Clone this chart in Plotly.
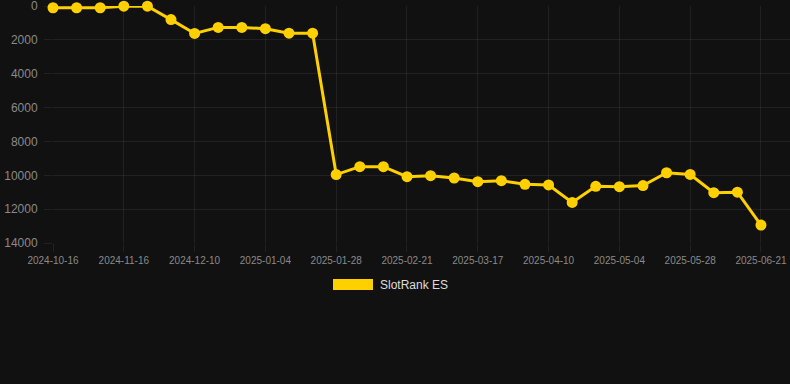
import plotly.graph_objects as go

dates = [
    "2024-10-16", "2024-10-26", "2024-11-05", "2024-11-16", "2024-11-24", "2024-12-02",
    "2024-12-10", "2024-12-18", "2024-12-26", "2025-01-04", "2025-01-12", "2025-01-20",
    "2025-01-28", "2025-02-05", "2025-02-13", "2025-02-21", "2025-03-01", "2025-03-09",
    "2025-03-17", "2025-03-25", "2025-04-02", "2025-04-10", "2025-04-18", "2025-04-26",
    "2025-05-04", "2025-05-12", "2025-05-20", "2025-05-28", "2025-06-05", "2025-06-13",
    "2025-06-21",
]
rank = [
    100, 100, 100, 10, 10, 800,
    1620, 1260, 1260, 1340, 1600, 1600,
    9960, 9490, 9490, 10080, 10020, 10160,
    10380, 10320, 10530, 10570, 11600, 10650,
    10670, 10610, 9850, 9950, 11030, 11000,
    12940,
]
tick_labels = dates[::3]
y_ticks = [0, 2000, 4000, 6000, 8000, 10000, 12000, 14000]
y_tick_text = [str(v) for v in y_ticks]
series_name = "SlotRank ES"

gold = "rgb(255,208,0)"
grid = "rgba(255,255,255,0.07)"
tick_col = "#8a8a8a"

fig = go.Figure()
fig.add_trace(go.Scatter(
    x=dates, y=rank, mode="lines+markers", name=series_name,
    line=dict(color=gold, width=3),
    marker=dict(color=gold, size=11),
    cliponaxis=False,
    showlegend=False,
))

W, H = 790, 384
L, R, T, B = 53, 0, 6, 141
fig.update_layout(
    width=W, height=H,
    margin=dict(l=L, r=R, t=T, b=B, autoexpand=False),
    paper_bgcolor="#111111", plot_bgcolor="#111111",
    font=dict(family="Liberation Sans, Arial, sans-serif", color=tick_col, size=10),
    xaxis=dict(
        type="category", range=[0, 31.23], tickmode="array",
        tickvals=tick_labels, ticktext=tick_labels,
        showgrid=True, gridcolor=grid, gridwidth=1,
        zeroline=False, showline=False,
        ticks="outside", ticklen=8, tickcolor=grid,
        tickfont=dict(size=10, color=tick_col),
        ticklabeloverflow="allow",
    ),
    yaxis=dict(
        range=[14000, -3], tickmode="array", tickvals=y_ticks, ticktext=y_tick_text,
        showgrid=True, gridcolor=grid, gridwidth=1,
        zeroline=False, showline=False,
        ticks="outside", ticklen=8, tickcolor=grid,
        tickfont=dict(size=12, color=tick_col),
        ticklabeloverflow="allow",
        ticklabelstandoff=4,
    ),
    showlegend=False,
)

pw = W - L - R
def px_to_paper(px):
    return (px - L) / pw

def py_to_paper(py):
    ph = H - T - B
    return (H - B - py) / ph

fig.add_shape(
    type="rect", xref="paper", yref="paper",
    x0=px_to_paper(333), x1=px_to_paper(373),
    y0=py_to_paper(290), y1=py_to_paper(279),
    fillcolor=gold, line=dict(width=0),
)
fig.add_annotation(
    xref="paper", yref="paper",
    x=px_to_paper(378), y=py_to_paper(284.5),
    text=series_name, showarrow=False, xanchor="left", yanchor="middle",
    font=dict(size=12, color="#dddddd", family="Liberation Sans, Arial, sans-serif"),
)

fig.write_html(
    "out.html",
    config={"displayModeBar": False},
    post_script="document.body.style.margin='0';document.body.style.background='#111111';",
)
